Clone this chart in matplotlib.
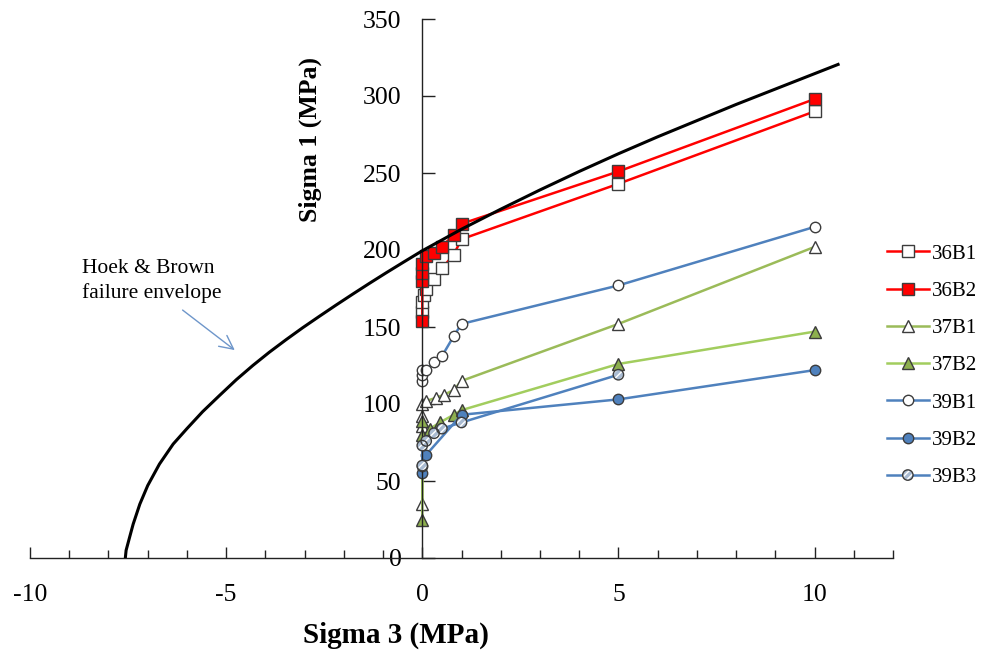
import matplotlib
matplotlib.use("Agg")
import matplotlib.pyplot as plt
from matplotlib.ticker import MultipleLocator
from matplotlib.legend_handler import HandlerTuple

plt.rcParams["font.family"] = ["Liberation Serif", "DejaVu Serif"]
plt.rcParams["axes.unicode_minus"] = False

# Hoek & Brown failure envelope, sigma3 / sigma1 (MPa)
env_s3 = [-7.57, -7.55, -7.45, -7.37, -7.2, -7.0, -6.7, -6.35, -6.0, -5.6,
          -5.17, -4.74, -4.32, -3.9, -3.47, -3.05, -2.62, -2.2, -1.77, -1.35,
          -0.92, -0.46, 0.0, 1.0, 2.0, 3.0, 4.0, 5.0, 6.0, 7.0, 8.0, 9.0,
          10.0, 10.6]
env_s1 = [0, 5, 14.5, 22, 35, 47, 61, 74, 84, 95,
          105.5, 115.8, 125, 133.6, 141.8, 149.5, 157, 164.2, 171.4, 178.3,
          185.2, 192.4, 199.5, 213.5, 226.5, 239, 251, 262.5, 273.5, 284, 294.5, 304.5,
          314.5, 320.5]

# Triaxial test results, sigma3 / sigma1 (MPa)
s3_36B1 = [0, 0, 0.05, 0.1, 0.3, 0.5, 0.8, 1.0, 5, 10]
s1_36B1 = [160, 166, 171, 175, 181, 188, 197, 207, 243, 290]

s3_36B2 = [0, 0, 0, 0, 0.1, 0.3, 0.5, 0.8, 1.0, 5, 10]
s1_36B2 = [154, 180, 185, 191, 196, 198, 202, 210, 217, 251, 298]

s3_37B1 = [0, 0, 0, 0, 0.1, 0.35, 0.55, 0.8, 1.0, 5, 10]
s1_37B1 = [35, 86, 92, 100, 102, 104, 106, 109, 115, 152, 202]

s3_37B2 = [0, 0, 0, 0.2, 0.45, 0.8, 1.0, 5, 10]
s1_37B2 = [25, 80, 89, 84, 88, 93, 96, 126, 147]

s3_39B1 = [0, 0, 0, 0.1, 0.3, 0.5, 0.8, 1.0, 5, 10]
s1_39B1 = [115, 119, 122, 122, 127, 131, 144, 152, 177, 215]

s3_39B2 = [0, 0, 0.1, 1.0, 5, 10]
s1_39B2 = [55, 60, 67, 93, 103, 122]

s3_39B3 = [0, 0, 0.1, 0.3, 0.5, 1.0, 5]
s1_39B3 = [60, 73, 76, 81, 84, 88, 119]

labels = ["36B1", "36B2", "37B1", "37B2", "39B1", "39B2", "39B3"]

RED = "#FF0000"
OLIVE = "#9BBB59"
LIME = "#A2CD5E"
OLIVE_FILL = "#8DAF4E"
BLUE = "#4F81BD"
HATCH_FACE = "#A9BBD2"
EDGE = "#3C3C3C"

fig = plt.figure(figsize=(9.81, 6.53), dpi=100)
ax = fig.add_axes([30 / 981, 95 / 653, 863 / 981, 539 / 653])
ax.set_xlim(-10, 12)
ax.set_ylim(0, 350)

for side in ("top", "right"):
    ax.spines[side].set_visible(False)
ax.spines["left"].set_position(("data", 0))
ax.spines["bottom"].set_position(("data", 0))
for side in ("left", "bottom"):
    ax.spines[side].set_color("#222222")
    ax.spines[side].set_linewidth(1.0)

ax.xaxis.set_major_locator(MultipleLocator(5))
ax.xaxis.set_minor_locator(MultipleLocator(1))
ax.yaxis.set_major_locator(MultipleLocator(50))
ax.tick_params(axis="x", which="major", direction="in", length=8, width=1,
               pad=19, labelsize=18.5, color="#222222")
ax.tick_params(axis="x", which="minor", direction="in", length=6, width=1,
               color="#222222")
ax.tick_params(axis="y", which="major", direction="in", length=9, width=1,
               pad=15, labelsize=18.5, color="#222222")

mk = dict(markeredgecolor=EDGE, markeredgewidth=1.0)
lw = 1.8

h1, = ax.plot(s3_36B1, s1_36B1, color=RED, lw=lw, marker="s", ms=8,
              markerfacecolor="white", **mk)
h2, = ax.plot(s3_36B2, s1_36B2, color=RED, lw=lw, marker="s", ms=8,
              markerfacecolor=RED, **mk)
h3, = ax.plot(s3_37B1, s1_37B1, color=OLIVE, lw=lw, marker="^", ms=8,
              markerfacecolor="white", **mk)
h4, = ax.plot(s3_37B2, s1_37B2, color=LIME, lw=lw, marker="^", ms=8,
              markerfacecolor=OLIVE_FILL, **mk)
h5, = ax.plot(s3_39B1, s1_39B1, color=BLUE, lw=lw, marker="o", ms=7.5,
              markerfacecolor="white", **mk)
h6, = ax.plot(s3_39B2, s1_39B2, color=BLUE, lw=lw, marker="o", ms=7.5,
              markerfacecolor=BLUE, **mk)
l7, = ax.plot(s3_39B3, s1_39B3, color=BLUE, lw=lw)
sc7a = ax.scatter(s3_39B3, s1_39B3, s=56, marker="o", facecolor=HATCH_FACE,
                  edgecolor="white", hatch="/////", linewidths=0, zorder=3)
sc7b = ax.scatter(s3_39B3, s1_39B3, s=56, marker="o", facecolor="none",
                  edgecolor=EDGE, linewidths=1.0, zorder=3.1)

# failure envelope
ax.plot(env_s3, env_s1, color="black", lw=2.2, zorder=4)

ax.text(-8.68, 180, "Hoek & Brown\nfailure envelope", fontsize=15.5,
        ha="left", va="center", linespacing=1.35)
ax.annotate("", xy=(-4.78, 135), xytext=(-6.11, 161),
            arrowprops=dict(arrowstyle="->,head_length=0.7,head_width=0.35",
                            color="#6E96CA", lw=1.0, mutation_scale=14,
                            shrinkA=0, shrinkB=0))

ax.set_xlabel("Sigma 3 (MPa)", fontsize=21, fontweight="bold")
ax.xaxis.label.set_va("center")
ax.xaxis.set_label_coords((396 - 30) / 863, (558 - 635) / 539)
ax.set_ylabel("Sigma 1 (MPa)", fontsize=18.5, fontweight="bold")
ax.yaxis.label.set_va("center")
ax.yaxis.set_label_coords((310 - 30) / 863, (558 - 140) / 539)

handles = [h1, h2, h3, h4, h5, h6, (l7, sc7a, sc7b)]
fig.legend(handles, labels, loc="upper left",
           bbox_to_anchor=(887 / 981, 1 - 244 / 653), frameon=False,
           fontsize=15, handlelength=2.0, handletextpad=0.15, labelspacing=0.85,
           borderpad=0, borderaxespad=0, scatterpoints=1, scatteryoffsets=[0.5],
           handler_map={tuple: HandlerTuple(ndivide=1, pad=0)})

fig.savefig("out.png", dpi=100)
